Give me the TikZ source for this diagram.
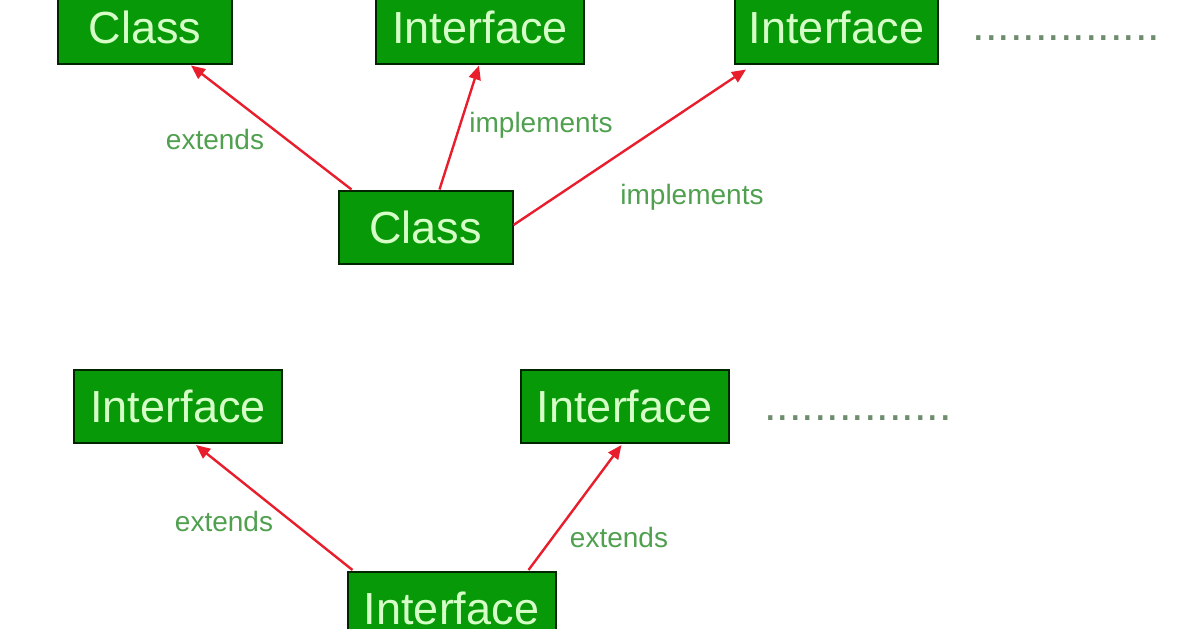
\documentclass[tikz,border=0pt]{standalone}
\usepackage{fontspec}
\setmainfont{Liberation Sans}
\usetikzlibrary{calc,arrows.meta}

\definecolor{boxgreen}{RGB}{8,153,8}
\definecolor{boxtext}{RGB}{214,255,200}
\definecolor{lblgreen}{RGB}{80,160,80}
\definecolor{dotgray}{RGB}{110,140,110}
\definecolor{arrred}{RGB}{232,30,45}

\tikzset{
  box/.style={draw=black!85!green, line width=1pt, fill=boxgreen, text=boxtext,
    inner sep=0pt, minimum height=36.5pt, font=\fontsize{22.5}{27}\selectfont},
  klass/.style={box, minimum width=87pt},
  iface/.style={box, minimum width=104pt},
  lbl/.style={text=lblgreen, inner sep=0pt, font=\fontsize{14}{17}\selectfont},
  more/.style={text=dotgray, inner sep=0pt, anchor=base, font=\fontsize{22.5}{27}\selectfont},
  rel/.style={arrred, line width=1.2pt, -{Triangle[length=7pt,width=6pt]}}
}

\begin{document}
\begin{tikzpicture}[x=0.5pt,y=-0.5pt]
\clip (0,0) rectangle (1196,628);

% class extends one class, implements many interfaces
\begin{scope}
\node[klass] (sup) at (145,27) {Class};
\node[iface] (ifa) at (480,27) {Interface};
\node[iface, minimum width=101.5pt] (ifb) at (836.5,27) {Interface};
\node[more] (moreA) at (1066.5,40) {...............};
\node[klass] (sub) at (425.5,227) {Class};

\draw[rel] ($(sub.north west)+(14,0)$) -- ($(sup.south)+(46,1)$);
\draw[rel] ($(sub.north)+(14,0)$) -- ($(ifa.south)+(-1,1)$);
\draw[rel] ($(sub.east)+(0,-2)$) -- ($(ifb.south west)+(12,5)$);

\node[lbl] (ext) at (215,139) {extends};
\node[lbl] (impA) at (541,125) {implements};
\node[lbl] (impB) at (692,197) {implements};
\end{scope}

% interface extends many interfaces
\begin{scope}
\node[iface] (ifc) at (178,406.5) {Interface};
\node[iface] (ifd) at (624.5,406.5) {Interface};
\node[more] (moreB) at (858,420) {...............};
\node[iface] (ife) at (451.5,608.5) {Interface};

\draw[rel] ($(ife.north west)+(6,-1)$) -- ($(ifc.south)+(18,1)$);
\draw[rel] ($(ife.north east)+(-28,-1)$) -- ($(ifd.south)+(-3,1)$);

\node[lbl] (extA) at (224,521) {extends};
\node[lbl] (extB) at (619,537) {extends};
\end{scope}

\end{tikzpicture}
\end{document}
